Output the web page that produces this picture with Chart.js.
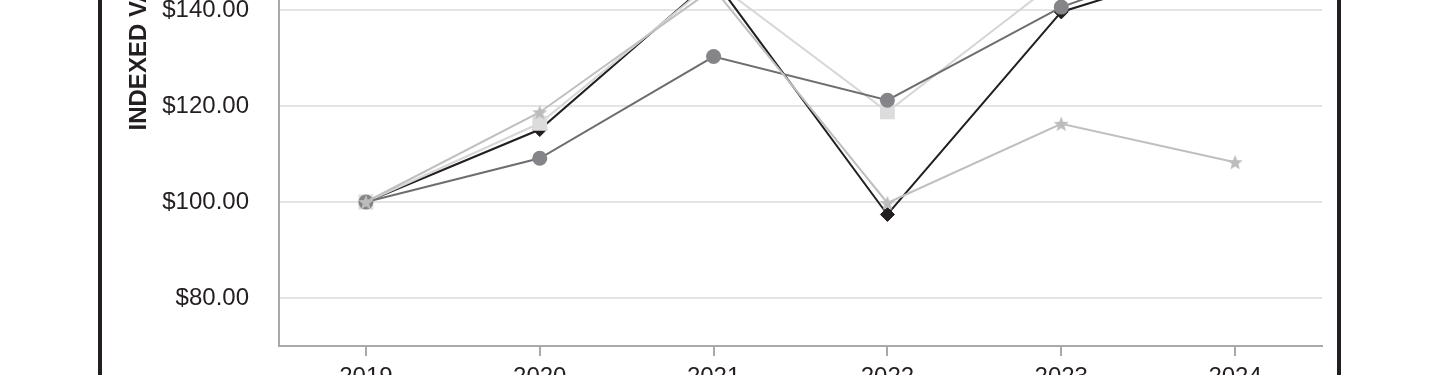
<!DOCTYPE html>
<html><head><meta charset="utf-8">
<script src="https://cdn.jsdelivr.net/npm/chart.js@4"></script>
<style>
html,body{margin:0;padding:0;width:1440px;height:375px;overflow:hidden;background:#fff;}
#frame{position:absolute;left:98px;top:-400px;width:1243px;height:850px;border:4px solid #231f20;box-sizing:border-box;background:#fff;}
#frame canvas{display:block;}
</style></head><body>
<div id="frame"><canvas id="c" width="1235" height="842"></canvas></div>
<script>
// ---- data ----
const years = ['2019', '2020', '2021', '2022', '2023', '2024'];
const companyValues = [100, 115.1, 146.5, 97.4, 139.6, 150.8];
const peerGroupValues = [100, 109.1, 130.3, 121.2, 140.6, 153.5];
const indexAValues = [100, 116.4, 146.0, 118.8, 146.7, 158.0];
const indexBValues = [100, 118.7, 144.5, 99.8, 116.3, 108.3];
const yTickValues = [80, 100, 120, 140, 160, 180, 200];
const yAxisTitle = 'INDEXED VALUE';

function makeStar(color, R, r) {
  const s = Math.ceil(R * 2) + 2;
  const c = document.createElement('canvas');
  c.width = s; c.height = s;
  const g = c.getContext('2d');
  g.fillStyle = color;
  g.beginPath();
  for (let i = 0; i < 10; i++) {
    const rad = i % 2 ? r : R;
    const a = -Math.PI / 2 + i * Math.PI / 5;
    g.lineTo(s / 2 + rad * Math.cos(a), s / 2 + 0.8 + rad * Math.sin(a));
  }
  g.closePath();
  g.fill();
  return c;
}
const starImg = makeStar('#bcbcbc', 8, 3.4);

const FONT = "'Liberation Sans', Arial, Helvetica, sans-serif";

new Chart(document.getElementById('c'), {
  type: 'line',
  data: {
    labels: years,
    datasets: [
      { label: 'Company', data: companyValues, borderColor: '#231f20', backgroundColor: '#231f20',
        borderWidth: 2, pointStyle: 'rectRot', pointRadius: 7, pointBorderWidth: 1,
        pointBorderColor: '#231f20', order: 3 },
      { label: 'Peer Group', data: peerGroupValues, borderColor: '#6e6e70', backgroundColor: '#858589',
        borderWidth: 2, pointStyle: 'circle', pointRadius: 7.5, pointBorderWidth: 0,
        pointBorderColor: '#858589', order: 1 },
      { label: 'Index A', data: indexAValues, borderColor: '#d6d6d6', backgroundColor: '#dcdcdc',
        borderWidth: 2, pointStyle: 'rect', pointRadius: 10.5, pointBorderWidth: 0,
        pointBorderColor: '#dcdcdc', order: 2 },
      { label: 'Index B', data: indexBValues, borderColor: '#bfbfbf', backgroundColor: '#bcbcbc',
        borderWidth: 2, pointStyle: starImg, pointRadius: 8, order: 0 }
    ]
  },
  options: {
    responsive: false,
    animation: false,
    devicePixelRatio: 1,
    layout: { padding: { top: 118, right: 15, bottom: 40, left: 0 } },
    elements: { line: { tension: 0 } },
    plugins: { legend: { display: false }, tooltip: { enabled: false } },
    scales: {
      x: {
        type: 'category',
        offset: true,
        grid: { drawOnChartArea: false, drawTicks: true, tickLength: 10, color: '#a9a9a9', lineWidth: 2 },
        border: { color: '#a9a9a9', width: 2 },
        ticks: { color: '#231f20', font: { family: FONT, size: 24 }, padding: 7, maxRotation: 0 },
        afterFit: s => { s.height = 60; }
      },
      y: {
        min: 70, max: 200,
        afterBuildTicks: s => { s.ticks = yTickValues.map(v => ({ value: v })); },
        grid: { color: '#e4e4e4', lineWidth: 2, drawTicks: false },
        border: { color: '#a9a9a9', width: 2 },
        ticks: { color: '#231f20', font: { family: FONT, size: 24 }, padding: 30,
                 callback: v => '$' + Number(v).toFixed(2) },
        title: { display: true, text: yAxisTitle, color: '#231f20',
                 font: { family: FONT, size: 24, weight: 'bold' }, padding: { top: 23, bottom: 0 } },
        afterFit: s => { s.width = 177; }
      }
    }
  }
});
</script>
</body></html>
